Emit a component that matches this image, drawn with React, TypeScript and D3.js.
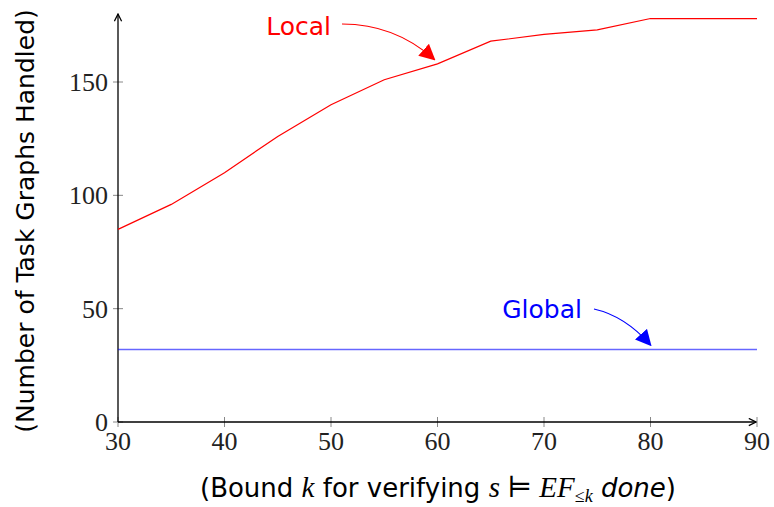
import * as d3 from 'd3';

const bounds = [30, 35, 40, 45, 50, 55, 60, 65, 70, 75, 80, 85, 90];
const localHandled = [85, 96, 110, 126, 140, 151, 158, 168, 171, 173, 178, 178, 178];
const globalHandled = [32, 32, 32, 32, 32, 32, 32, 32, 32, 32, 32, 32, 32];
const xTicks = [30, 40, 50, 60, 70, 80, 90];
const yTicks = [0, 50, 100, 150];

const W = 774;
const H = 507;
const serif = '"Liberation Serif", "DejaVu Serif", serif';
const sans = '"DejaVu Sans", sans-serif';

export default function App() {
  const x = d3.scaleLinear().domain([30, 90]).range([118, 757]);
  const y = d3.scaleLinear().domain([0, 180]).range([422, 14]);

  const line = d3.line<number>()
    .x((_, i) => x(bounds[i]))
    .y(d => y(d));

  const x0 = x(30), yBase = y(0);

  return (
    <svg width={W} height={H} style={{ position: 'absolute', left: 0, top: 0, background: '#fff' }}>
      <defs>
        <marker id="axArrow" viewBox="0 0 10 10" refX="9" refY="5" markerWidth="9" markerHeight="9" markerUnits="userSpaceOnUse" orient="auto">
          <path d="M1,1 L9,5 L1,9" fill="none" stroke="#000" strokeWidth="1.4" />
        </marker>
        <marker id="redHead" viewBox="0 0 10 10" refX="9" refY="5" markerWidth="16" markerHeight="16" markerUnits="userSpaceOnUse" orient="auto">
          <path d="M0,0 L10,5 L0,10 Z" fill="#f00" />
        </marker>
        <marker id="blueHead" viewBox="0 0 10 10" refX="9" refY="5" markerWidth="16" markerHeight="16" markerUnits="userSpaceOnUse" orient="auto">
          <path d="M0,0 L10,5 L0,10 Z" fill="#00f" />
        </marker>
      </defs>

      {/* ticks */}
      {xTicks.map(t => (
        <g key={'x' + t}>
          <line x1={x(t)} x2={x(t)} y1={yBase - 5} y2={yBase + 5} stroke="#888" strokeWidth={1} />
          <text x={x(t)} y={yBase + 28} textAnchor="middle" fontFamily={serif} fontSize={26} fill="#222">{t}</text>
        </g>
      ))}
      {yTicks.map(t => (
        <g key={'y' + t}>
          <line x1={x0 - 5} x2={x0 + 5} y1={y(t)} y2={y(t)} stroke="#888" strokeWidth={1} />
          <text x={x0 - 10} y={y(t) + 9} textAnchor="end" fontFamily={serif} fontSize={26} fill="#222">{t}</text>
        </g>
      ))}

      {/* axes */}
      <line x1={x0} x2={x(90) - 1} y1={yBase} y2={yBase} stroke="#000" strokeWidth={1.3} markerEnd="url(#axArrow)" />
      <line x1={x0} x2={x0} y1={yBase} y2={y(180)} stroke="#000" strokeWidth={1.3} markerEnd="url(#axArrow)" />

      {/* series */}
      <path d={line(localHandled) ?? ''} fill="none" stroke="#f00" strokeWidth={1.2} />
      <path d={line(globalHandled) ?? ''} fill="none" stroke="#00f" strokeOpacity={0.6} strokeWidth={1.5} />

      {/* annotations */}
      <text x={331} y={35} textAnchor="end" fontFamily={sans} fontSize={25} fill="#f00">Local</text>
      <path d={`M342,24 Q395,24 ${x(59.7)},${y(160)}`} fill="none" stroke="#f00" strokeWidth={1.2} markerEnd="url(#redHead)" />
      <text x={582} y={318} textAnchor="end" fontFamily={sans} fontSize={25} fill="#00f">Global</text>
      <path d={`M594,309 Q625,316 ${x(80)},${y(34)}`} fill="none" stroke="#00f" strokeWidth={1.2} markerEnd="url(#blueHead)" />

      {/* axis labels */}
      <text x={438} y={497} textAnchor="middle" fontFamily={sans} fontSize={26} fill="#000">
        (Bound <tspan fontFamily={serif} fontStyle="italic" fontSize={29}>k</tspan> for verifying{' '}
        <tspan fontFamily={serif} fontStyle="italic" fontSize={29}>s</tspan>
        <tspan fontFamily={serif} fontSize={29}> ⊨ </tspan>
        <tspan fontFamily={serif} fontStyle="italic" fontSize={29}>EF</tspan>
        <tspan fontFamily={serif} fontSize={18} dy={5}>≤<tspan fontStyle="italic">k</tspan></tspan>
        <tspan dy={-5} fontStyle="italic"> done</tspan>)
      </text>
      <text transform={`translate(34,221) rotate(-90)`} textAnchor="middle" fontFamily={sans} fontSize={25} fill="#000">
        (Number of Task Graphs Handled)
      </text>
    </svg>
  );
}
